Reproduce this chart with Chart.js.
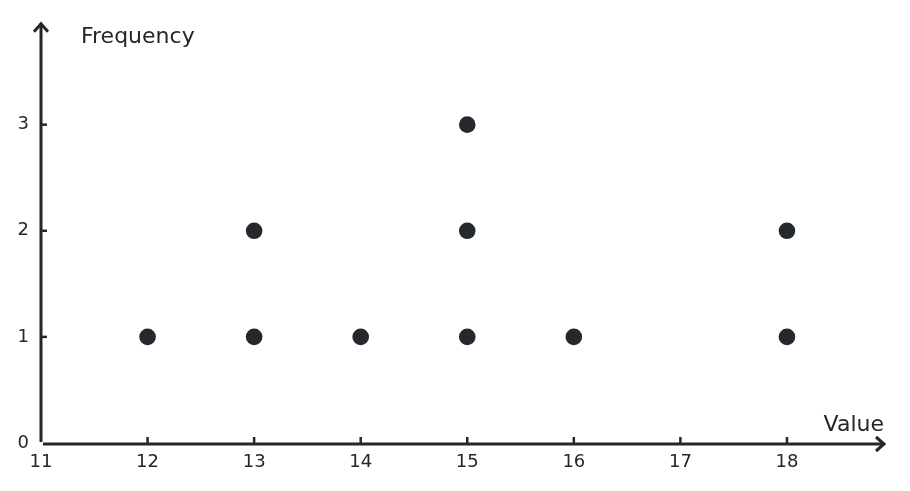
<!DOCTYPE html>
<html>
<head>
<meta charset="utf-8">
<script src="https://cdn.jsdelivr.net/npm/chart.js@4/dist/chart.umd.min.js"></script>
<style>
  html, body { margin: 0; padding: 0; background: #fff; }
  #wrap { width: 910px; height: 491px; }
</style>
</head>
<body>
<div id="wrap"><canvas id="myChart"></canvas></div>
<script>
// values and how often each one occurs
const values = [12, 13, 14, 15, 16, 18];
const frequencies = [1, 2, 1, 3, 1, 2];
const xTicks = [11, 12, 13, 14, 15, 16, 17, 18];
const yTicks = [0, 1, 2, 3];

const ink = '#262626';

// one dot per occurrence, stacked
const points = [];
values.forEach((v, i) => {
  for (let k = 1; k <= frequencies[i]; k++) points.push({ x: v, y: k });
});

const axesPlugin = {
  id: 'arrowAxes',
  afterDraw(chart) {
    const c = chart.ctx;
    const xs = chart.scales.x, ys = chart.scales.y;
    const left = xs.getPixelForValue(11);
    const bottom = ys.getPixelForValue(0);
    const right = chart.chartArea.right;
    const top = chart.chartArea.top;
    c.save();
    c.strokeStyle = ink;
    c.lineWidth = 3;
    c.lineCap = 'butt';
    c.lineJoin = 'miter';
    // x axis
    c.beginPath();
    c.moveTo(left + 2, bottom + 1);
    c.lineTo(right - 1, bottom + 1);
    c.stroke();
    c.beginPath();
    c.moveTo(right - 9, bottom + 1 - 7);
    c.lineTo(right - 1, bottom + 1);
    c.lineTo(right - 9, bottom + 1 + 7);
    c.stroke();
    // y axis
    c.beginPath();
    c.moveTo(left, bottom - 1);
    c.lineTo(left, top + 1);
    c.stroke();
    c.beginPath();
    c.moveTo(left - 7, top + 9);
    c.lineTo(left, top + 1);
    c.lineTo(left + 7, top + 9);
    c.stroke();
    // small ticks
    c.lineWidth = 2.5;
    xTicks.slice(1).forEach(v => {
      const px = xs.getPixelForValue(v);
      c.beginPath();
      c.moveTo(px, bottom);
      c.lineTo(px, bottom - 6);
      c.stroke();
    });
    yTicks.slice(1).forEach(v => {
      const py = ys.getPixelForValue(v);
      c.beginPath();
      c.moveTo(left, py);
      c.lineTo(left + 6, py);
      c.stroke();
    });
    // axis titles
    c.fillStyle = ink;
    c.font = '22px "DejaVu Sans"';
    c.textBaseline = 'alphabetic';
    c.textAlign = 'left';
    c.fillText('Frequency', left + 40, top + 20);
    c.textAlign = 'right';
    c.fillText('Value', right - 1, bottom - 12);
    c.restore();
  }
};

new Chart(document.getElementById('myChart'), {
  type: 'scatter',
  data: {
    datasets: [{
      data: points,
      backgroundColor: '#25282d',
      borderColor: '#25282d',
      borderWidth: 0,
      pointRadius: 8.3,
      pointHoverRadius: 8.3,
      clip: false
    }]
  },
  options: {
    responsive: true,
    maintainAspectRatio: false,
    animation: false,
    events: [],
    layout: { padding: { top: 22, right: 25, left: 0, bottom: 0 } },
    plugins: { legend: { display: false }, tooltip: { enabled: false } },
    scales: {
      x: {
        type: 'linear',
        min: 11,
        max: 18.92,
        border: { display: false },
        grid: { display: false, drawTicks: false, tickLength: 0 },
        afterBuildTicks: s => { s.ticks = xTicks.map(v => ({ value: v })); },
        afterFit: s => { s.height = 48; },
        ticks: {
          padding: 9,
          color: ink,
          font: { family: 'DejaVu Sans', size: 18 },
          maxRotation: 0,
          autoSkip: false
        }
      },
      y: {
        type: 'linear',
        min: 0,
        max: 3.96,
        border: { display: false },
        grid: { display: false, drawTicks: false, tickLength: 0 },
        afterBuildTicks: s => { s.ticks = yTicks.map(v => ({ value: v })); },
        afterFit: s => { s.width = 41; },
        ticks: {
          padding: 12,
          color: ink,
          font: { family: 'DejaVu Sans', size: 18 }
        }
      }
    }
  },
  plugins: [axesPlugin]
});
</script>
</body>
</html>
